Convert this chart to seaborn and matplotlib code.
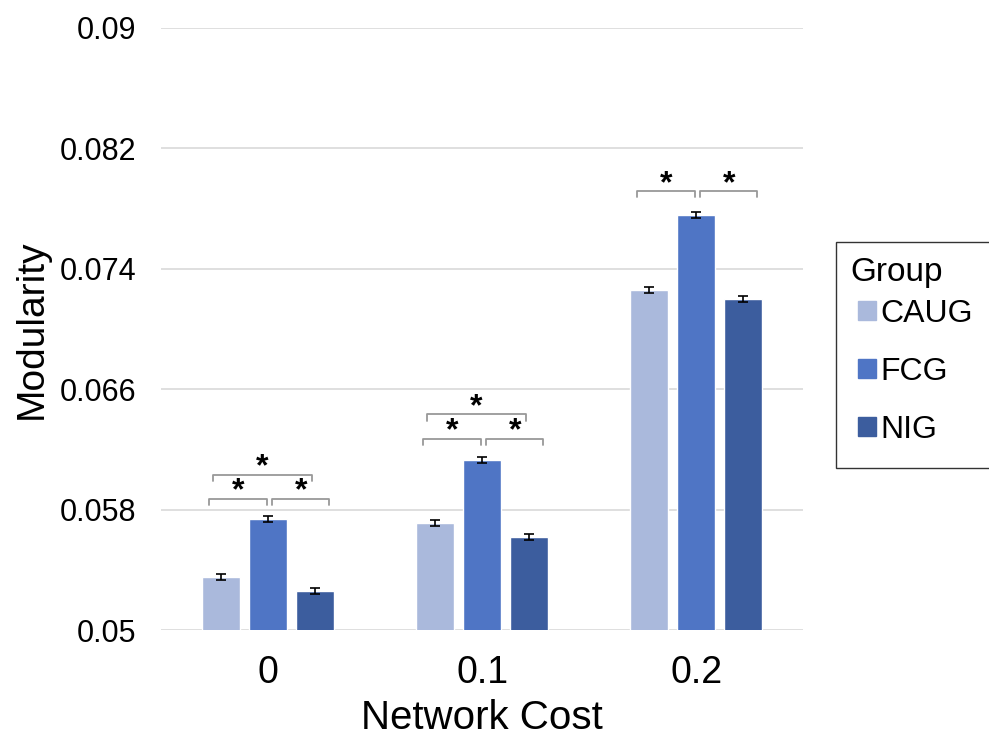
import numpy as np
import pandas as pd
import matplotlib.pyplot as plt
import seaborn as sns

costs = ["0", "0.1", "0.2"]
groups = ["CAUG", "FCG", "NIG"]
caug = [0.0535, 0.0571, 0.0726]
fcg = [0.0574, 0.0613, 0.0776]
nig = [0.0526, 0.0562, 0.0720]
caug_err = [0.0002, 0.0002, 0.0002]
fcg_err = [0.0002, 0.0002, 0.0002]
nig_err = [0.0002, 0.0002, 0.0002]
# significant pairs per cost level (hue index pairs)
sig_pairs = {
    "0": [(0, 1), (1, 2), (0, 2)],
    "0.1": [(0, 1), (1, 2), (0, 2)],
    "0.2": [(0, 1), (1, 2)],
}
colors = ["#AAB9DC", "#4F75C5", "#3C5D9E"]

df = pd.DataFrame({
    "cost": costs * 3,
    "group": np.repeat(groups, 3),
    "value": caug + fcg + nig,
    "err": caug_err + fcg_err + nig_err,
})

sns.set_style("white")
plt.rcParams["font.family"] = ["Liberation Sans", "DejaVu Sans"]
plt.rcParams["text.color"] = "black"
plt.rcParams["axes.labelcolor"] = "black"
plt.rcParams["xtick.color"] = "black"
plt.rcParams["ytick.color"] = "black"

fig = plt.figure(figsize=(9.89, 7.36), dpi=100)
ax = fig.add_axes([0.163, 0.144, 0.649, 0.818])

sns.barplot(data=df, x="cost", y="value", hue="group", palette=colors,
            saturation=1, width=0.66, gap=0.19, errorbar=None,
            legend=False, ax=ax)

# error bars + remember bar centres
centers = {}
bar_conts = list(ax.containers)
for gi, cont in enumerate(bar_conts):
    sub = df[df["group"] == groups[gi]]
    for ci, bar in enumerate(cont):
        x = bar.get_x() + bar.get_width() / 2
        centers[(ci, gi)] = x
        ax.errorbar(x, sub["value"].iloc[ci], yerr=sub["err"].iloc[ci],
                    color="black", capsize=3.5, elinewidth=1.2, capthick=1.2)

ax.set_ylim(0.05, 0.09)
ax.set_yticks([0.05, 0.058, 0.066, 0.074, 0.082, 0.09])
ax.set_yticklabels(["0.05", "0.058", "0.066", "0.074", "0.082", "0.09"])
ax.set_xlim(-0.5, 2.5)
ax.yaxis.grid(True, color="#D9D9D9", linewidth=1.2)
ax.set_axisbelow(True)
for s in ax.spines.values():
    s.set_visible(False)
ax.tick_params(axis="y", labelsize=22, length=0, pad=18)
ax.tick_params(axis="x", labelsize=27, length=0, pad=18)
ax.set_xlabel("Network Cost", fontsize=29, labelpad=6)
ax.set_ylabel("Modularity", fontsize=28, labelpad=7)

# significance brackets
vals = [caug, fcg, nig]
errs = [caug_err, fcg_err, nig_err]
tick = 0.0004
for ci, c in enumerate(costs):
    top = max(vals[g][ci] + errs[g][ci] for g in range(3))
    base = top + 0.0011 + 0.00012 * ci
    for a, b in sig_pairs[c]:
        if b - a == 1:
            y = base
            if a == 0:
                x0 = centers[(ci, a)] - 0.055
                x1 = centers[(ci, b)] - 0.005
            else:
                x0 = centers[(ci, a)] + 0.02
                x1 = centers[(ci, b)] + 0.065
        else:
            y = base + 0.0016
            x0 = centers[(ci, a)] - 0.037
            x1 = centers[(ci, b)] - 0.015
        ax.plot([x0, x0, x1, x1], [y - tick, y, y, y - tick],
                color="#999999", linewidth=1.3)
        ax.text((x0 + x1) / 2, y + 0.0005, "*", ha="center", va="center",
                fontsize=23, fontweight="bold")

handles = [plt.Rectangle((0, 0), 1, 1, color=c) for c in colors]
leg = fig.legend(handles, groups, title="Group", loc="upper left",
                 bbox_to_anchor=(0.845, 0.671), borderaxespad=0,
                 frameon=True, fancybox=False,
                 fontsize=23, title_fontsize=24, handlelength=0.55,
                 handleheight=0.55, handletextpad=0.15, labelspacing=0.88,
                 borderpad=0.45, alignment="left")
leg.get_frame().set_edgecolor("black")
leg.get_frame().set_linewidth(1.0)
# tighter gap under the title, entries indented a little
leg._legend_box.sep = 2
leg._legend_handle_box.pad = 6

fig.savefig("out.png", dpi=100)
